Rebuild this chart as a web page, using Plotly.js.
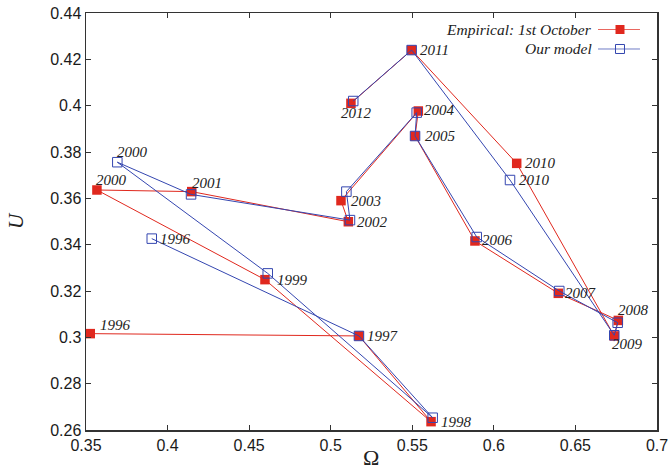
<!DOCTYPE html>
<html>
<head>
<meta charset="utf-8">
<script src="https://cdn.plot.ly/plotly-3.0.1.min.js"></script>
<style>html,body{margin:0;padding:0;background:#fff;}#chart{width:670px;height:472px;}</style>
</head>
<body>
<div id="chart"></div>
<script>
// ---- data ----
var years = [1996, 1997, 1998, 1999, 2000, 2001, 2002, 2003, 2004, 2005, 2006, 2007, 2008, 2009, 2010, 2011, 2012];
var empiricalOmega = [0.3526, 0.5173, 0.5615, 0.4597, 0.3567, 0.4148, 0.5108, 0.5063, 0.5537, 0.5517, 0.5884, 0.6395, 0.6763, 0.6738, 0.6140, 0.5496, 0.5124];
var empiricalU     = [0.3016, 0.3006, 0.2636, 0.3249, 0.3636, 0.3629, 0.3499, 0.3590, 0.3977, 0.3869, 0.3416, 0.3190, 0.3073, 0.3006, 0.3751, 0.4240, 0.4010];
var modelOmega     = [0.3903, 0.5173, 0.5625, 0.4614, 0.3692, 0.4144, 0.5118, 0.5096, 0.5527, 0.5517, 0.5895, 0.6401, 0.6759, 0.6738, 0.6099, 0.5496, 0.5138];
var modelU         = [0.3426, 0.3006, 0.2653, 0.3276, 0.3756, 0.3617, 0.3506, 0.3629, 0.3970, 0.3869, 0.3433, 0.3200, 0.3063, 0.3009, 0.3679, 0.4240, 0.4020];
var seriesNames = ["Empirical: 1st October", "Our model"];
var modelLabelYears = [1996, 2000, 2010];
var xTicks = [0.35, 0.4, 0.45, 0.5, 0.55, 0.6, 0.65, 0.7];
var yTicks = [0.26, 0.28, 0.3, 0.32, 0.34, 0.36, 0.38, 0.4, 0.42, 0.44];

// ---- style ----
var RED = '#e0281e', BLUE = '#3446b0';
var empLabelOffsets = { // [dx, dy] px, dy down
  1996: [25, -9], 1997: [24, 0], 1998: [25, 0], 1999: [28, 0], 2000: [15, -10],
  2001: [15, -9], 2002: [24, 0], 2003: [25, 0], 2004: [21, -1], 2005: [25, 0],
  2006: [23, -1], 2007: [23, 0], 2008: [15, -10], 2009: [13, 8], 2010: [24, 0],
  2011: [23, 0], 2012: [6, 10]
};
var modLabelOffsets = {1996: [24, 0], 2000: [15, -10], 2010: [24, 0]};
var labelFont = {family: 'Liberation Serif, Times New Roman, serif', size: 15, color: '#222', style: 'italic'};

var traces = [
  {x: empiricalOmega, y: empiricalU, mode: 'lines+markers', name: seriesNames[0],
   line: {color: RED, width: 1}, marker: {symbol: 'square', size: 9.5, color: RED}},
  {x: modelOmega, y: modelU, mode: 'lines+markers', name: seriesNames[1],
   line: {color: BLUE, width: 1}, marker: {symbol: 'square-open', size: 9.5, color: BLUE, line: {width: 1, color: BLUE}}}
];

var annotations = [];
years.forEach(function (yr, i) {
  var o = empLabelOffsets[yr];
  annotations.push({x: empiricalOmega[i], y: empiricalU[i], xref: 'x', yref: 'y', text: String(yr),
    showarrow: false, xanchor: 'center', yanchor: 'middle', xshift: o[0], yshift: -o[1], font: labelFont});
});
modelLabelYears.forEach(function (yr) {
  var i = years.indexOf(yr), o = modLabelOffsets[yr];
  annotations.push({x: modelOmega[i], y: modelU[i], xref: 'x', yref: 'y', text: String(yr),
    showarrow: false, xanchor: 'center', yanchor: 'middle', xshift: o[0], yshift: -o[1], font: labelFont});
});
// x-axis title
annotations.push({x: 0.499, y: -0.066, xref: 'paper', yref: 'paper', text: 'Ω', showarrow: false,
  xanchor: 'center', yanchor: 'middle', font: {family: 'Liberation Serif, Times New Roman, serif', size: 22, color: '#222'}});

// legend (text left, sample right)
var legendFont = {family: 'Liberation Serif, Times New Roman, serif', size: 15.5, color: '#222', style: 'italic'};
var legY = [0.9604, 0.9137];
var legColors = [RED, BLUE];
var shapes = [];
seriesNames.forEach(function (nm, k) {
  annotations.push({x: 0.890, y: legY[k], xref: 'paper', yref: 'paper', text: nm, showarrow: false,
    xanchor: 'right', yanchor: 'middle', font: legendFont});
  shapes.push({type: 'line', xref: 'paper', yref: 'paper', x0: 0.8967, x1: 0.9702, y0: legY[k], y1: legY[k],
    line: {color: legColors[k], width: 1}, opacity: 0.7});
  shapes.push({type: 'rect', xref: 'paper', yref: 'paper', xsizemode: 'pixel', ysizemode: 'pixel',
    xanchor: 0.9352, yanchor: legY[k], x0: -4.5, x1: 4.5, y0: -4.5, y1: 4.5,
    fillcolor: k === 0 ? RED : 'rgba(0,0,0,0)', line: {color: legColors[k], width: k === 0 ? 0 : 1}});
});

var axisCommon = {
  showline: true, mirror: 'ticks', ticks: 'inside', ticklen: 5, tickwidth: 1, tickcolor: '#333',
  linecolor: '#333', linewidth: 1.5, showgrid: false, zeroline: false,
  tickfont: {family: 'Liberation Sans, Arial, sans-serif', size: 16, color: '#1a1a1a'}
};

var layout = {
  width: 670, height: 472,
  margin: {l: 86, r: 13, t: 13, b: 42},
  paper_bgcolor: '#fff', plot_bgcolor: '#fff',
  showlegend: false,
  xaxis: Object.assign({}, axisCommon, {range: [0.35, 0.7], tickvals: xTicks, ticktext: xTicks.map(String)}),
  yaxis: Object.assign({}, axisCommon, {range: [0.26, 0.44], tickvals: yTicks, ticktext: yTicks.map(String),
    title: {text: 'U', standoff: 21, font: {family: 'Liberation Serif, Times New Roman, serif', size: 21, color: '#222', style: 'italic'}}}),
  annotations: annotations,
  shapes: shapes
};

Plotly.newPlot('chart', traces, layout, {displayModeBar: false, staticPlot: true});
</script>
</body>
</html>
